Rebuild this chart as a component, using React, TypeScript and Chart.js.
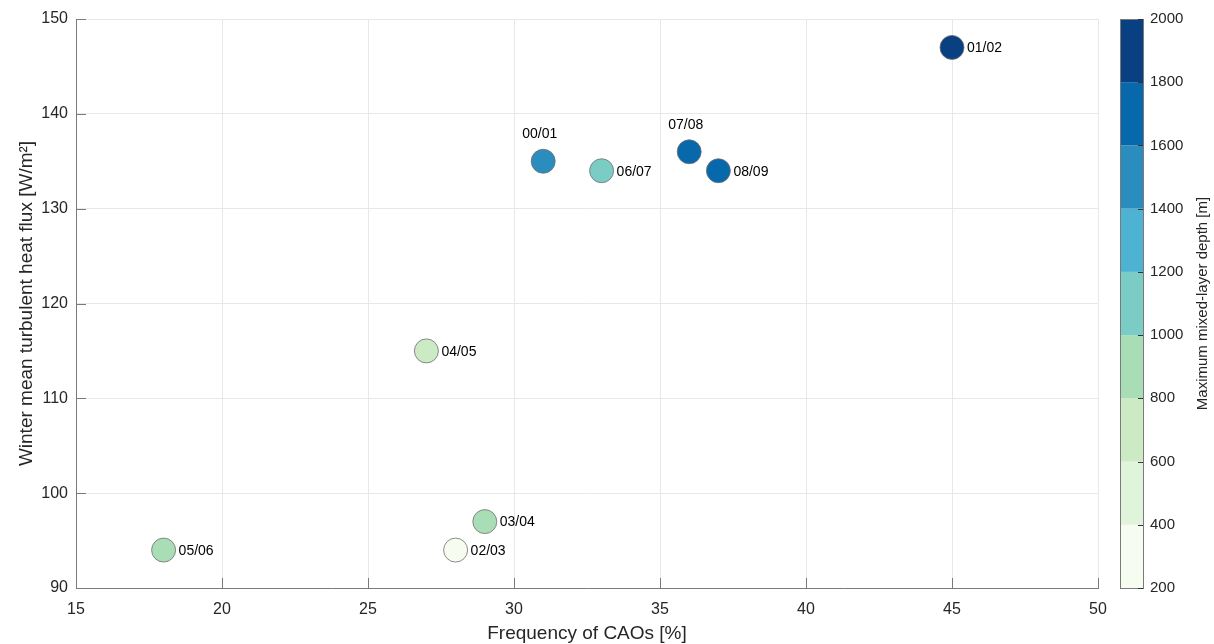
import React, { useEffect, useRef } from "react";
import { Chart, registerables } from "chart.js";

Chart.register(...registerables);

// ---- data ----
const seasons = ["00/01", "01/02", "02/03", "03/04", "04/05", "05/06", "06/07", "07/08", "08/09"];
const caoFrequency = [31, 45, 28, 29, 27, 18, 33, 36, 37];
const heatFlux = [135, 147, 94, 97, 115, 94, 134, 136, 134];
const mixedLayerDepth = [1500, 1900, 300, 900, 700, 900, 1100, 1700, 1700];
const labelPlacement = ["top", "right", "right", "right", "right", "right", "right", "top", "right"];

const xTicks = [15, 20, 25, 30, 35, 40, 45, 50];
const yTicks = [90, 100, 110, 120, 130, 140, 150];
const colorbarEdges = [200, 400, 600, 800, 1000, 1200, 1400, 1600, 1800, 2000];
const colorbarColors = [
  "#f7fcf0",
  "#e0f3db",
  "#ccebc5",
  "#a8ddb5",
  "#7bccc4",
  "#4eb3d3",
  "#2b8cbe",
  "#0868ac",
  "#084081",
];

const FONT = "'Liberation Sans', Arial, Helvetica, sans-serif";
const TEXT = "#262626";
const AXIS = "#7a7a7a";

function colorFor(depth: number): string {
  for (let i = 0; i < colorbarEdges.length - 1; i++) {
    if (depth >= colorbarEdges[i] && depth < colorbarEdges[i + 1]) return colorbarColors[i];
  }
  return colorbarColors[colorbarColors.length - 1];
}

const decorPlugin = {
  id: "decor",
  beforeDatasetsDraw(chart: any) {
    const { ctx, chartArea, scales } = chart;
    const xs = scales.x;
    const ys = scales.y;
    ctx.save();
    ctx.strokeStyle = AXIS;
    ctx.lineWidth = 1;
    ctx.beginPath();
    xTicks.forEach((v) => {
      const px = Math.round(xs.getPixelForValue(v)) + 0.5;
      ctx.moveTo(px, chartArea.bottom);
      ctx.lineTo(px, chartArea.bottom - 10);
    });
    yTicks.forEach((v) => {
      const py = Math.round(ys.getPixelForValue(v)) + 0.5;
      ctx.moveTo(chartArea.left, py);
      ctx.lineTo(chartArea.left + 10, py);
    });
    ctx.stroke();
    ctx.restore();
  },
  afterDatasetsDraw(chart: any) {
    const { ctx } = chart;
    const meta = chart.getDatasetMeta(0);
    ctx.save();
    ctx.fillStyle = "#000";
    ctx.font = `14px ${FONT}`;
    meta.data.forEach((pt: any, i: number) => {
      if (labelPlacement[i] === "top") {
        ctx.textAlign = "center";
        ctx.textBaseline = "middle";
        ctx.fillText(seasons[i], pt.x - 3.5, pt.y - 27);
      } else {
        ctx.textAlign = "left";
        ctx.textBaseline = "middle";
        ctx.fillText(seasons[i], pt.x + 15, pt.y + 1);
      }
    });
    ctx.restore();
  },
  afterDraw(chart: any) {
    const { ctx, chartArea } = chart;
    const x0 = 1120;
    const x1 = 1143;
    const top = chartArea.top;
    const bottom = chartArea.bottom;
    const lo = colorbarEdges[0];
    const hi = colorbarEdges[colorbarEdges.length - 1];
    const py = (v: number) => bottom - ((v - lo) / (hi - lo)) * (bottom - top);
    ctx.save();
    for (let i = 0; i < colorbarColors.length; i++) {
      const yA = py(colorbarEdges[i]);
      const yB = py(colorbarEdges[i + 1]);
      ctx.fillStyle = colorbarColors[i];
      ctx.fillRect(x0, yB, x1 - x0, yA - yB);
    }
    ctx.strokeStyle = AXIS;
    ctx.lineWidth = 1;
    ctx.strokeRect(x0 + 0.5, top + 0.5, x1 - x0, bottom - top);
    ctx.strokeStyle = "#333";
    ctx.beginPath();
    colorbarEdges.forEach((v) => {
      const y = Math.round(py(v)) + 0.5;
      ctx.moveTo(x1, y);
      ctx.lineTo(x1 - 5, y);
    });
    ctx.stroke();
    ctx.fillStyle = TEXT;
    ctx.font = `15px ${FONT}`;
    ctx.textAlign = "left";
    ctx.textBaseline = "middle";
    colorbarEdges.forEach((v) => {
      ctx.fillText(String(v), 1150, py(v));
    });
    ctx.translate(1203, (top + bottom) / 2);
    ctx.rotate(-Math.PI / 2);
    ctx.textAlign = "center";
    ctx.fillText("Maximum mixed-layer depth [m]", 0, 0);
    ctx.restore();
  },
};

export default function App() {
  const ref = useRef<HTMLCanvasElement | null>(null);
  useEffect(() => {
    if (!ref.current) return;
    Chart.defaults.font.family = FONT;
    const points = caoFrequency.map((x, i) => ({ x, y: heatFlux[i] }));
    const chart = new Chart(ref.current, {
      type: "scatter",
      data: {
        datasets: [
          {
            label: "Winters",
            data: points,
            pointRadius: 12,
            pointHoverRadius: 12,
            pointBackgroundColor: mixedLayerDepth.map(colorFor),
            pointBorderColor: "#6e6e6e",
            pointBorderWidth: 0.8,
          },
        ],
      },
      options: {
        animation: false,
        responsive: false,
        devicePixelRatio: 1,
        layout: { padding: { top: 19, right: 116, left: 0, bottom: 0 } },
        plugins: { legend: { display: false }, tooltip: { enabled: false } },
        scales: {
          x: {
            type: "linear",
            min: 15,
            max: 50,
            afterFit: (s: any) => {
              s.height = 56;
            },
            afterBuildTicks: (s: any) => {
              s.ticks = xTicks.map((v) => ({ value: v }));
            },
            ticks: { color: TEXT, font: { size: 16, family: FONT }, padding: 12, maxRotation: 0 },
            grid: { color: "#e8e8e8", drawTicks: false },
            border: { display: true, color: AXIS, width: 1 },
            title: {
              display: true,
              text: "Frequency of CAOs [%]",
              color: TEXT,
              font: { size: 19, family: FONT },
              padding: { top: 0, bottom: -1 },
            },
          },
          y: {
            type: "linear",
            min: 90,
            max: 150,
            afterFit: (s: any) => {
              s.width = 76;
            },
            afterBuildTicks: (s: any) => {
              s.ticks = yTicks.map((v) => ({ value: v }));
            },
            ticks: { color: TEXT, font: { size: 16, family: FONT }, padding: 8 },
            grid: { color: "#e8e8e8", drawTicks: false },
            border: { display: true, color: AXIS, width: 1 },
            title: {
              display: true,
              text: "Winter mean turbulent heat flux [W/m²]",
              color: TEXT,
              font: { size: 19, family: FONT },
              padding: { top: 15, bottom: 0 },
            },
          },
        },
      },
      plugins: [decorPlugin],
    });
    return () => chart.destroy();
  }, []);
  return (
    <div style={{ position: "absolute", left: 0, top: 0, width: 1214, height: 644, background: "#fff" }}>
      <canvas ref={ref} width={1214} height={644} style={{ display: "block" }} />
    </div>
  );
}
